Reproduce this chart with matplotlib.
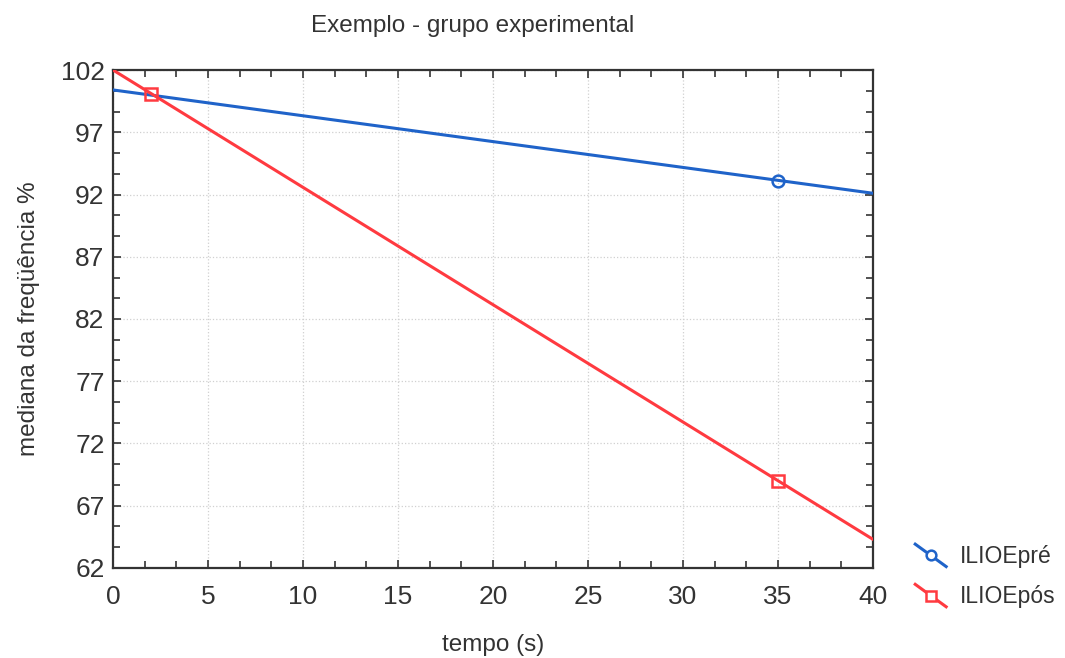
import matplotlib.pyplot as plt
from matplotlib.legend_handler import HandlerLine2D
from matplotlib.lines import Line2D
from matplotlib.ticker import AutoMinorLocator

plt.rcParams["font.family"] = ["Liberation Sans", "DejaVu Sans"]

# fitted lines, evaluated at the axis ends
line_x = [0, 40]
pre_line = [100.4, 92.1]
pos_line = [102.0, 64.3]

# observed points (markers)
pre_mx = [35]
pre_my = [93.1]
pos_mx = [2, 35]
pos_my = [100.1, 69.0]

x_ticks = [0, 5, 10, 15, 20, 25, 30, 35, 40]
y_ticks = [62, 67, 72, 77, 82, 87, 92, 97, 102]
labels = ["ILIOEpré", "ILIOEpós"]
BLUE = "#1f63c9"
RED = "#ff3a40"
INK = "#333333"


class DiagonalHandler(HandlerLine2D):
    # legend sample drawn as a falling diagonal with the marker in the middle
    def create_artists(self, legend, orig_handle, xdescent, ydescent,
                       width, height, fontsize, trans):
        x0, x1 = -xdescent, -xdescent + width
        y0, y1 = -ydescent + height * 1.15, -ydescent - height * 0.25
        ln = Line2D([x0, x1], [y0, y1], color=orig_handle.get_color(),
                    lw=orig_handle.get_linewidth(), transform=trans)
        mk = Line2D([(x0 + x1) / 2], [(y0 + y1) / 2],
                    marker=orig_handle.get_marker(), ms=orig_handle.get_markersize(),
                    mfc="white", mec=orig_handle.get_color(),
                    mew=orig_handle.get_markeredgewidth(), ls="none", transform=trans)
        return [ln, mk]


fig = plt.figure(figsize=(10.65, 6.58), dpi=100)
ax = fig.add_axes([0.1061, 0.1368, 0.7136, 0.7568])

ax.plot(line_x, pre_line, color=BLUE, lw=2.2, zorder=3)
ax.plot(line_x, pos_line, color=RED, lw=2.2, zorder=3)
ax.plot(pre_mx, pre_my, ls="none", marker="o", ms=8.5, mfc="none",
        mec=BLUE, mew=1.8, zorder=4)
ax.plot(pos_mx, pos_my, ls="none", marker="s", ms=8.5, mfc="none",
        mec=RED, mew=1.8, zorder=4)

ax.set_xlim(0, 40)
ax.set_ylim(62, 102)
ax.set_xticks(x_ticks)
ax.set_yticks(y_ticks)
ax.xaxis.set_minor_locator(AutoMinorLocator(3))
ax.yaxis.set_minor_locator(AutoMinorLocator(3))
ax.tick_params(which="both", direction="in", top=True, right=True,
               color=INK, width=1.2)
ax.tick_params(which="major", length=6, labelsize=19, labelcolor=INK)
ax.tick_params(axis="x", which="major", pad=12)
ax.tick_params(axis="y", which="major", pad=6)
ax.tick_params(which="minor", length=5)
for sp in ax.spines.values():
    sp.set_color(INK)
    sp.set_linewidth(1.6)
ax.grid(True, which="major", color="#d0d0d0", ls=":", lw=0.9)

ax.set_xlabel("tempo (s)", fontsize=17.5, color=INK, labelpad=18)
ax.set_ylabel("mediana da freqüência %", fontsize=17.5, color=INK, labelpad=15)
fig.text(0.444, 0.960, "Exemplo - grupo experimental", fontsize=17.5,
         color=INK, ha="center", va="center")

handles = [Line2D([], [], color=BLUE, lw=2.2, marker="o", ms=7, mew=1.8),
           Line2D([], [], color=RED, lw=2.2, marker="s", ms=7, mew=1.8)]
fig.legend(handles, labels, loc="lower left", bbox_to_anchor=(0.84, 0.045),
           frameon=False, fontsize=16.5, handlelength=1.35, handletextpad=0.6,
           labelspacing=0.75, handler_map={Line2D: DiagonalHandler()},
           labelcolor=INK)

fig.savefig("out.png", dpi=100)
